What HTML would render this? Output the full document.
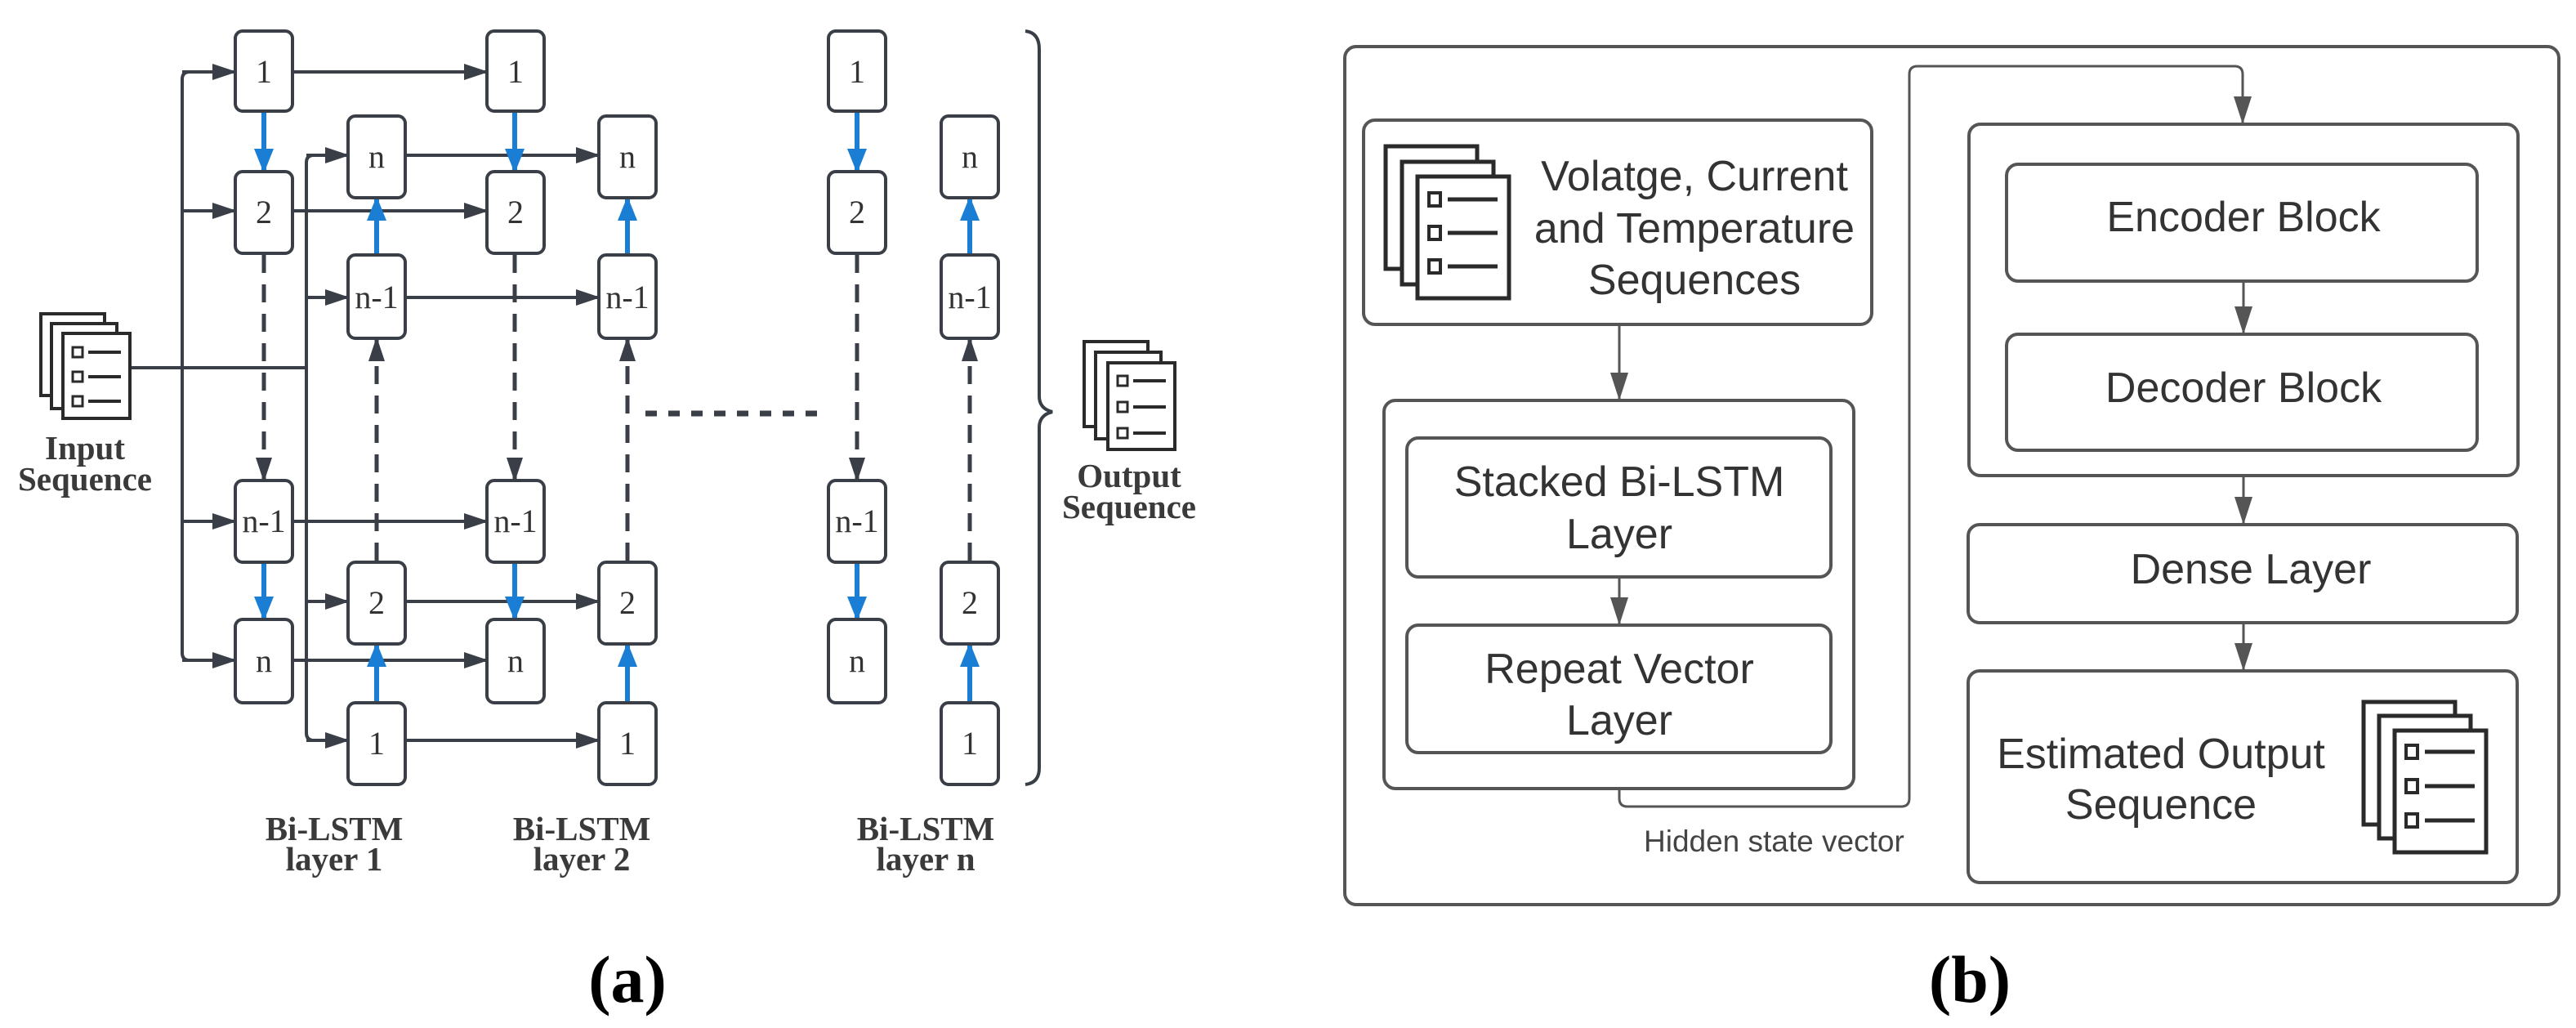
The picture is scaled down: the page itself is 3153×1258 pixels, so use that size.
<!DOCTYPE html>
<html><head><meta charset="utf-8"><style>
html,body{margin:0;padding:0;background:#fff;}
svg{display:block;}
.ser{font-family:"Liberation Serif",serif;}
.san{font-family:"Liberation Sans",sans-serif;}
</style></head><body>
<svg width="3153" height="1258" viewBox="0 0 3153 1258" xmlns="http://www.w3.org/2000/svg">
<defs>
<marker id="ad" markerUnits="userSpaceOnUse" markerWidth="30" markerHeight="24" refX="28" refY="12" orient="auto"><path d="M0,2 L30,12 L0,22 z" fill="#3a3e47"/></marker>
<marker id="ab" markerUnits="userSpaceOnUse" markerWidth="30" markerHeight="26" refX="28" refY="13" orient="auto"><path d="M0,1 L30,13 L0,25 z" fill="#1a7fd4"/></marker>
<marker id="ag" markerUnits="userSpaceOnUse" markerWidth="34" markerHeight="26" refX="32" refY="13" orient="auto"><path d="M0,2 L34,13 L0,24 z" fill="#555"/></marker>
</defs>

<!-- ============ LEFT (a) ============ -->
<g stroke="#3a3e47" stroke-width="4" fill="none">
  <line x1="159" y1="450" x2="375" y2="450"/>
  <path d="M288,88 H232 Q223,88 223,97 V799 Q223,808 232,808"/>
  <path d="M426,190 H384 Q375,190 375,199 V897 Q375,906 384,906"/>
  <g marker-end="url(#ad)">
    <line x1="223" y1="88" x2="288" y2="88"/>
    <line x1="223" y1="258" x2="288" y2="258"/>
    <line x1="223" y1="638" x2="288" y2="638"/>
    <line x1="223" y1="808" x2="288" y2="808"/>
    <line x1="375" y1="190" x2="426" y2="190"/>
    <line x1="375" y1="364" x2="426" y2="364"/>
    <line x1="375" y1="736" x2="426" y2="736"/>
    <line x1="375" y1="906" x2="426" y2="906"/>
    <line x1="358" y1="88" x2="596" y2="88"/>
    <line x1="358" y1="258" x2="596" y2="258"/>
    <line x1="358" y1="638" x2="596" y2="638"/>
    <line x1="358" y1="808" x2="596" y2="808"/>
    <line x1="497" y1="190" x2="733" y2="190"/>
    <line x1="497" y1="364" x2="733" y2="364"/>
    <line x1="497" y1="736" x2="733" y2="736"/>
    <line x1="497" y1="906" x2="733" y2="906"/>
  </g>
  <g stroke-width="5" stroke-dasharray="22 14" marker-end="url(#ad)">
    <line x1="323" y1="312" x2="323" y2="588"/>
    <line x1="630" y1="312" x2="630" y2="588"/>
    <line x1="1049" y1="312" x2="1049" y2="588"/>
    <line x1="461" y1="686" x2="461" y2="414"/>
    <line x1="768" y1="686" x2="768" y2="414"/>
    <line x1="1187" y1="686" x2="1187" y2="414"/>
  </g>
  <line x1="790" y1="506" x2="1014" y2="506" stroke-width="7" stroke-dasharray="14 14"/>
</g>
<g stroke="#1a7fd4" stroke-width="6" marker-end="url(#ab)">
  <line x1="323" y1="138" x2="323" y2="210"/>
  <line x1="323" y1="690" x2="323" y2="758"/>
  <line x1="630" y1="138" x2="630" y2="210"/>
  <line x1="630" y1="690" x2="630" y2="758"/>
  <line x1="1049" y1="138" x2="1049" y2="210"/>
  <line x1="1049" y1="690" x2="1049" y2="758"/>
  <line x1="461" y1="312" x2="461" y2="242"/>
  <line x1="461" y1="860" x2="461" y2="788"/>
  <line x1="768" y1="312" x2="768" y2="242"/>
  <line x1="768" y1="860" x2="768" y2="788"/>
  <line x1="1187" y1="312" x2="1187" y2="242"/>
  <line x1="1187" y1="860" x2="1187" y2="788"/>
</g>
<g stroke="#3a3e47" stroke-width="4" fill="#fff">
  <rect x="288" y="38" width="70" height="98" rx="9"/>
  <rect x="288" y="210" width="70" height="100" rx="9"/>
  <rect x="288" y="588" width="70" height="100" rx="9"/>
  <rect x="288" y="758" width="70" height="102" rx="9"/>
  <rect x="596" y="38" width="70" height="98" rx="9"/>
  <rect x="596" y="210" width="70" height="100" rx="9"/>
  <rect x="596" y="588" width="70" height="100" rx="9"/>
  <rect x="596" y="758" width="70" height="102" rx="9"/>
  <rect x="1014" y="38" width="70" height="98" rx="9"/>
  <rect x="1014" y="210" width="70" height="100" rx="9"/>
  <rect x="1014" y="588" width="70" height="100" rx="9"/>
  <rect x="1014" y="758" width="70" height="102" rx="9"/>
  <rect x="426" y="142" width="70" height="100" rx="9"/>
  <rect x="426" y="312" width="70" height="102" rx="9"/>
  <rect x="426" y="688" width="70" height="100" rx="9"/>
  <rect x="426" y="860" width="70" height="100" rx="9"/>
  <rect x="733" y="142" width="70" height="100" rx="9"/>
  <rect x="733" y="312" width="70" height="102" rx="9"/>
  <rect x="733" y="688" width="70" height="100" rx="9"/>
  <rect x="733" y="860" width="70" height="100" rx="9"/>
  <rect x="1152" y="142" width="70" height="100" rx="9"/>
  <rect x="1152" y="312" width="70" height="102" rx="9"/>
  <rect x="1152" y="688" width="70" height="100" rx="9"/>
  <rect x="1152" y="860" width="70" height="100" rx="9"/>
</g>
<g class="ser" font-size="40" fill="#333" text-anchor="middle">
  <text x="323" y="101">1</text><text x="323" y="273">2</text><text x="323" y="651">n-1</text><text x="323" y="822">n</text>
  <text x="631" y="101">1</text><text x="631" y="273">2</text><text x="631" y="651">n-1</text><text x="631" y="822">n</text>
  <text x="1049" y="101">1</text><text x="1049" y="273">2</text><text x="1049" y="651">n-1</text><text x="1049" y="822">n</text>
  <text x="461" y="205">n</text><text x="461" y="377">n-1</text><text x="461" y="751">2</text><text x="461" y="923">1</text>
  <text x="768" y="205">n</text><text x="768" y="377">n-1</text><text x="768" y="751">2</text><text x="768" y="923">1</text>
  <text x="1187" y="205">n</text><text x="1187" y="377">n-1</text><text x="1187" y="751">2</text><text x="1187" y="923">1</text>
</g>
<path d="M1255,38 Q1272,40 1272,60 V485 Q1272,500 1288,504 Q1272,508 1272,523 V940 Q1272,958 1255,960" stroke="#3a3e47" stroke-width="4" fill="none"/>
<g stroke="#2a2a2a" stroke-width="4" fill="#fff">
  <rect x="50" y="384" width="78" height="100"/>
  <rect x="63" y="396" width="80" height="104"/>
  <rect x="77" y="408" width="82" height="104"/>
  <rect x="89" y="425" width="12" height="12" stroke-width="3"/>
  <rect x="89" y="455" width="12" height="12" stroke-width="3"/>
  <rect x="89" y="485" width="12" height="12" stroke-width="3"/>
  <line x1="108" y1="431" x2="148" y2="431"/><line x1="108" y1="461" x2="148" y2="461"/><line x1="108" y1="491" x2="148" y2="491"/>
</g>
<g stroke="#2a2a2a" stroke-width="4" fill="#fff">
  <rect x="1327" y="418" width="78" height="104"/>
  <rect x="1341" y="431" width="80" height="106"/>
  <rect x="1356" y="444" width="82" height="106"/>
  <rect x="1368" y="460" width="12" height="12" stroke-width="3"/>
  <rect x="1368" y="492" width="12" height="12" stroke-width="3"/>
  <rect x="1368" y="524" width="12" height="12" stroke-width="3"/>
  <line x1="1387" y1="466" x2="1427" y2="466"/><line x1="1387" y1="498" x2="1427" y2="498"/><line x1="1387" y1="530" x2="1427" y2="530"/>
</g>
<g class="ser" font-size="41" font-weight="bold" fill="#3a3a3a" text-anchor="middle">
  <text x="104" y="562">Input</text><text x="104" y="600">Sequence</text>
  <text x="1382" y="596">Output</text><text x="1382" y="634">Sequence</text>
  <text x="409" y="1028">Bi-LSTM</text><text x="409" y="1065">layer 1</text>
  <text x="712" y="1028">Bi-LSTM</text><text x="712" y="1065">layer 2</text>
  <text x="1133" y="1028">Bi-LSTM</text><text x="1133" y="1065">layer n</text>
</g>
<text x="768" y="1226" class="ser" font-size="82" font-weight="bold" fill="#000" text-anchor="middle">(a)</text>

<!-- ============ RIGHT (b) ============ -->
<g stroke="#555" stroke-width="4" fill="none">
  <rect x="1646" y="57" width="1486" height="1050" rx="14"/>
  <rect x="1669" y="147" width="622" height="250" rx="14"/>
  <rect x="1694" y="490" width="575" height="475" rx="14"/>
  <rect x="1722" y="536" width="519" height="170" rx="14"/>
  <rect x="1722" y="765" width="519" height="156" rx="14"/>
  <rect x="2410" y="152" width="672" height="430" rx="14"/>
  <rect x="2456" y="201" width="576" height="143" rx="14"/>
  <rect x="2456" y="409" width="576" height="142" rx="14"/>
  <rect x="2409" y="642" width="672" height="120" rx="14"/>
  <rect x="2409" y="821" width="672" height="259" rx="14"/>
</g>
<g stroke="#555" stroke-width="3" fill="none" marker-end="url(#ag)">
  <line x1="1982" y1="397" x2="1982" y2="488"/>
  <line x1="1982" y1="706" x2="1982" y2="763"/>
  <path d="M1982,966 V977 Q1982,987 1992,987 H2327 Q2337,987 2337,977 V91 Q2337,81 2347,81 H2735 Q2745,81 2745,91 V150"/>
  <line x1="2746" y1="344" x2="2746" y2="407"/>
  <line x1="2746" y1="582" x2="2746" y2="640"/>
  <line x1="2746" y1="762" x2="2746" y2="819"/>
</g>
<g stroke="#2a2a2a" stroke-width="5" fill="#fff">
  <rect x="1696" y="179" width="112" height="150"/>
  <rect x="1716" y="198" width="112" height="150"/>
  <rect x="1735" y="216" width="112" height="149"/>
  <rect x="1749" y="236" width="14" height="16" stroke-width="4"/>
  <rect x="1749" y="277" width="14" height="16" stroke-width="4"/>
  <rect x="1749" y="318" width="14" height="16" stroke-width="4"/>
  <line x1="1772" y1="244" x2="1833" y2="244"/><line x1="1772" y1="285" x2="1833" y2="285"/><line x1="1772" y1="326" x2="1833" y2="326"/>
</g>
<g stroke="#2a2a2a" stroke-width="5" fill="#fff">
  <rect x="2893" y="859" width="112" height="150"/>
  <rect x="2912" y="876" width="112" height="150"/>
  <rect x="2931" y="894" width="112" height="149"/>
  <rect x="2945" y="912" width="14" height="16" stroke-width="4"/>
  <rect x="2945" y="954" width="14" height="16" stroke-width="4"/>
  <rect x="2945" y="996" width="14" height="16" stroke-width="4"/>
  <line x1="2968" y1="920" x2="3029" y2="920"/><line x1="2968" y1="962" x2="3029" y2="962"/><line x1="2968" y1="1004" x2="3029" y2="1004"/>
</g>
<g class="san" font-size="52" fill="#333" text-anchor="middle">
  <text x="2074" y="233">Volatge, Current</text>
  <text x="2074" y="297">and Temperature</text>
  <text x="2074" y="360">Sequences</text>
  <text x="1982" y="607">Stacked Bi-LSTM</text>
  <text x="1982" y="671">Layer</text>
  <text x="1982" y="836">Repeat Vector</text>
  <text x="1982" y="899">Layer</text>
  <text x="2746" y="283">Encoder Block</text>
  <text x="2746" y="492">Decoder Block</text>
  <text x="2755" y="714">Dense Layer</text>
  <text x="2645" y="940">Estimated Output</text>
  <text x="2645" y="1002">Sequence</text>
</g>
<text x="2012" y="1042" class="san" font-size="37" fill="#444">Hidden state vector</text>
<text x="2411" y="1226" class="ser" font-size="82" font-weight="bold" fill="#000" text-anchor="middle">(b)</text>
</svg>
</body></html>
